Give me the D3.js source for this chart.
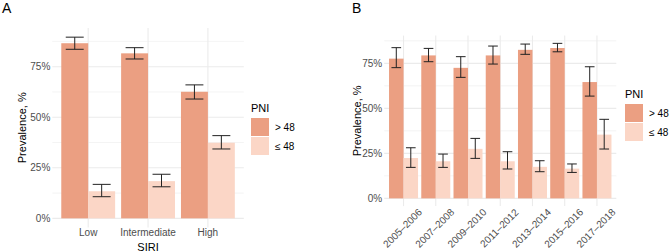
<!DOCTYPE html>
<html>
<head>
<meta charset="utf-8">
<script src="https://cdn.jsdelivr.net/npm/d3@7"></script>
<style>
    body { margin: 0; background: #fff; }
    svg { display: block; font-family: "Liberation Sans", Arial, sans-serif; }
</style>
</head>
<body>
<div id="chart"></div>
<script>
// PNI groups
const groups = ["> 48", "≤ 48"];
const groupColors = ["#EB9F82", "#FBD6C6"];

// Panel A: by SIRI
const siriCats = ["Low", "Intermediate", "High"];
const siriHigh = [86.6, 81.6, 62.6];
const siriHighLo = [83.6, 78.8, 59.0];
const siriHighHi = [89.6, 84.4, 66.0];
const siriLow = [13.4, 18.4, 37.4];
const siriLowLo = [10.7, 15.6, 34.3];
const siriLowHi = [16.8, 21.8, 40.9];

// Panel B: by survey cycle
const yearCats = ["2005–2006", "2007–2008", "2009–2010", "2011–2012", "2013–2014", "2015–2016", "2017–2018"];
const yearHigh = [77.6, 79.4, 72.5, 79.4, 82.5, 83.5, 64.6];
const yearHighLo = [72.6, 75.9, 67.2, 74.6, 80.0, 81.4, 56.8];
const yearHighHi = [83.7, 83.3, 78.7, 84.6, 85.7, 86.1, 73.1];
const yearLow = [22.4, 20.6, 27.5, 20.6, 17.5, 16.5, 35.4];
const yearLowLo = [17.2, 17.2, 22.2, 16.3, 14.8, 14.4, 27.4];
const yearLowHi = [28.1, 24.6, 33.3, 25.9, 20.9, 19.1, 43.9];

const yTicks = [0, 25, 50, 75];
const yMinor = [12.5, 37.5, 62.5, 87.5];

const width = 669, height = 252;

const svg = d3.select("#chart")
    .append("svg")
    .attr("width", width)
    .attr("height", height);

function buildRows(cats, hi, hiLo, hiHi, lo, loLo, loHi) {
    const rows = [];
    cats.forEach((c, i) => {
        rows.push({cat: c, group: groups[0], value: hi[i], lo: hiLo[i], hi: hiHi[i]});
        rows.push({cat: c, group: groups[1], value: lo[i], lo: loLo[i], hi: loHi[i]});
    });
    return rows;
}

function drawPanel(opt) {
    const {left, right, top, bottom, cats, rows} = opt;

    // ggplot style 5% expansion of the data range
    const maxHi = d3.max(rows, d => d.hi);
    const y = d3.scaleLinear()
        .domain([-0.05 * maxHi, 1.05 * maxHi])
        .range([bottom, top]);

    const x = d3.scaleBand()
        .domain(cats)
        .range([left, right])
        .paddingInner(0.1)
        .paddingOuter(0.15);

    const xSub = d3.scaleBand()
        .domain(groups)
        .range([0, x.bandwidth()]);

    const color = d3.scaleOrdinal().domain(groups).range(groupColors);

    const g = svg.append("g");

    // grid
    g.selectAll("line.minor")
        .data(yMinor.filter(v => y(v) >= top))
        .join("line")
        .attr("x1", left).attr("x2", right)
        .attr("y1", d => y(d)).attr("y2", d => y(d))
        .attr("stroke", "#ededed")
        .attr("stroke-width", 0.6);

    g.selectAll("line.major")
        .data(yTicks)
        .join("line")
        .attr("x1", left).attr("x2", right)
        .attr("y1", d => y(d)).attr("y2", d => y(d))
        .attr("stroke", "#ebebeb")
        .attr("stroke-width", 1.1);

    g.selectAll("line.vmajor")
        .data(cats)
        .join("line")
        .attr("x1", d => x(d) + x.bandwidth() / 2)
        .attr("x2", d => x(d) + x.bandwidth() / 2)
        .attr("y1", top).attr("y2", bottom)
        .attr("stroke", "#ebebeb")
        .attr("stroke-width", 1.1);

    // bars
    g.selectAll("rect.bar")
        .data(rows)
        .join("rect")
        .attr("x", d => x(d.cat) + xSub(d.group))
        .attr("width", xSub.bandwidth())
        .attr("y", d => y(d.value))
        .attr("height", d => y(0) - y(d.value))
        .attr("fill", d => color(d.group));

    // error bars
    const capW = x.step() * 0.3;
    const eb = g.selectAll("g.err")
        .data(rows)
        .join("g")
        .attr("transform", d => `translate(${x(d.cat) + xSub(d.group) + xSub.bandwidth() / 2},0)`)
        .attr("stroke", "#222")
        .attr("stroke-width", 1);
    eb.append("line")
        .attr("y1", d => y(d.lo)).attr("y2", d => y(d.hi));
    eb.append("line")
        .attr("x1", -capW / 2).attr("x2", capW / 2)
        .attr("y1", d => y(d.hi)).attr("y2", d => y(d.hi));
    eb.append("line")
        .attr("x1", -capW / 2).attr("x2", capW / 2)
        .attr("y1", d => y(d.lo)).attr("y2", d => y(d.lo));

    // y axis labels
    const yAxis = svg.append("g")
        .attr("transform", `translate(${left},0)`)
        .call(d3.axisLeft(y).tickValues(yTicks).tickSize(0).tickPadding(2).tickFormat(d => d + "%"));
    yAxis.select(".domain").remove();
    yAxis.selectAll("text")
        .attr("fill", "#4d4d4d")
        .style("font-size", "10px")
        .style("font-family", "Liberation Sans, Arial, sans-serif");

    // x axis labels
    const xAxis = svg.append("g")
        .attr("transform", `translate(0,${bottom})`)
        .call(d3.axisBottom(x).tickSize(0).tickPadding(1.2));
    xAxis.select(".domain").remove();
    xAxis.selectAll("text")
        .attr("fill", "#4d4d4d")
        .style("font-size", "10px")
        .style("font-family", "Liberation Sans, Arial, sans-serif");
    if (opt.rotate) {
        xAxis.selectAll("text")
            .attr("y", 0)
            .attr("dy", "0.35em")
            .attr("text-anchor", "middle")
            .attr("transform", "translate(-1,22) rotate(-45)");
    }

    // y title
    svg.append("text")
        .attr("transform", `translate(${opt.yTitleX},${(top + bottom) / 2}) rotate(-90)`)
        .attr("text-anchor", "middle")
        .attr("dy", "0.35em")
        .style("font-size", "11px")
        .text("Prevalence, %");

    if (opt.xTitle) {
        svg.append("text")
            .attr("x", (left + right) / 2)
            .attr("y", opt.xTitleY)
            .attr("text-anchor", "middle")
            .style("font-size", "11px")
            .text(opt.xTitle);
    }

    // legend
    const lg = svg.append("g")
        .attr("transform", `translate(${opt.legendX},${opt.legendY})`);
    lg.append("text")
        .attr("x", 0).attr("y", 0)
        .attr("dy", "0.35em")
        .style("font-size", "11px")
        .text("PNI");
    groups.forEach((grp, i) => {
        lg.append("rect")
            .attr("x", 0)
            .attr("y", 10 + i * 19)
            .attr("width", 18)
            .attr("height", 18)
            .attr("fill", color(grp));
        lg.append("text")
            .attr("x", 24)
            .attr("y", 19 + i * 19)
            .attr("dy", "0.35em")
            .attr("fill", "#000")
            .style("font-size", "10px")
            .text(grp);
    });

    // panel tag
    svg.append("text")
        .attr("x", opt.tagX)
        .attr("y", 13)
        .style("font-size", "14px")
        .text(opt.tag);
}

drawPanel({
    tag: "A", tagX: 2,
    left: 52.3, right: 243.8, top: 28.1, bottom: 227.4,
    cats: siriCats,
    rows: buildRows(siriCats, siriHigh, siriHighLo, siriHighHi, siriLow, siriLowLo, siriLowHi),
    yTitleX: 22.5,
    xTitle: "SIRI", xTitleY: 251,
    legendX: 251, legendY: 108
});

drawPanel({
    tag: "B", tagX: 352,
    left: 384.2, right: 616.3, top: 35.6, bottom: 206.1,
    cats: yearCats,
    rows: buildRows(yearCats, yearHigh, yearHighLo, yearHighHi, yearLow, yearLowLo, yearLowHi),
    yTitleX: 357,
    rotate: true,
    legendX: 625, legendY: 94
});
</script>
</body>
</html>
